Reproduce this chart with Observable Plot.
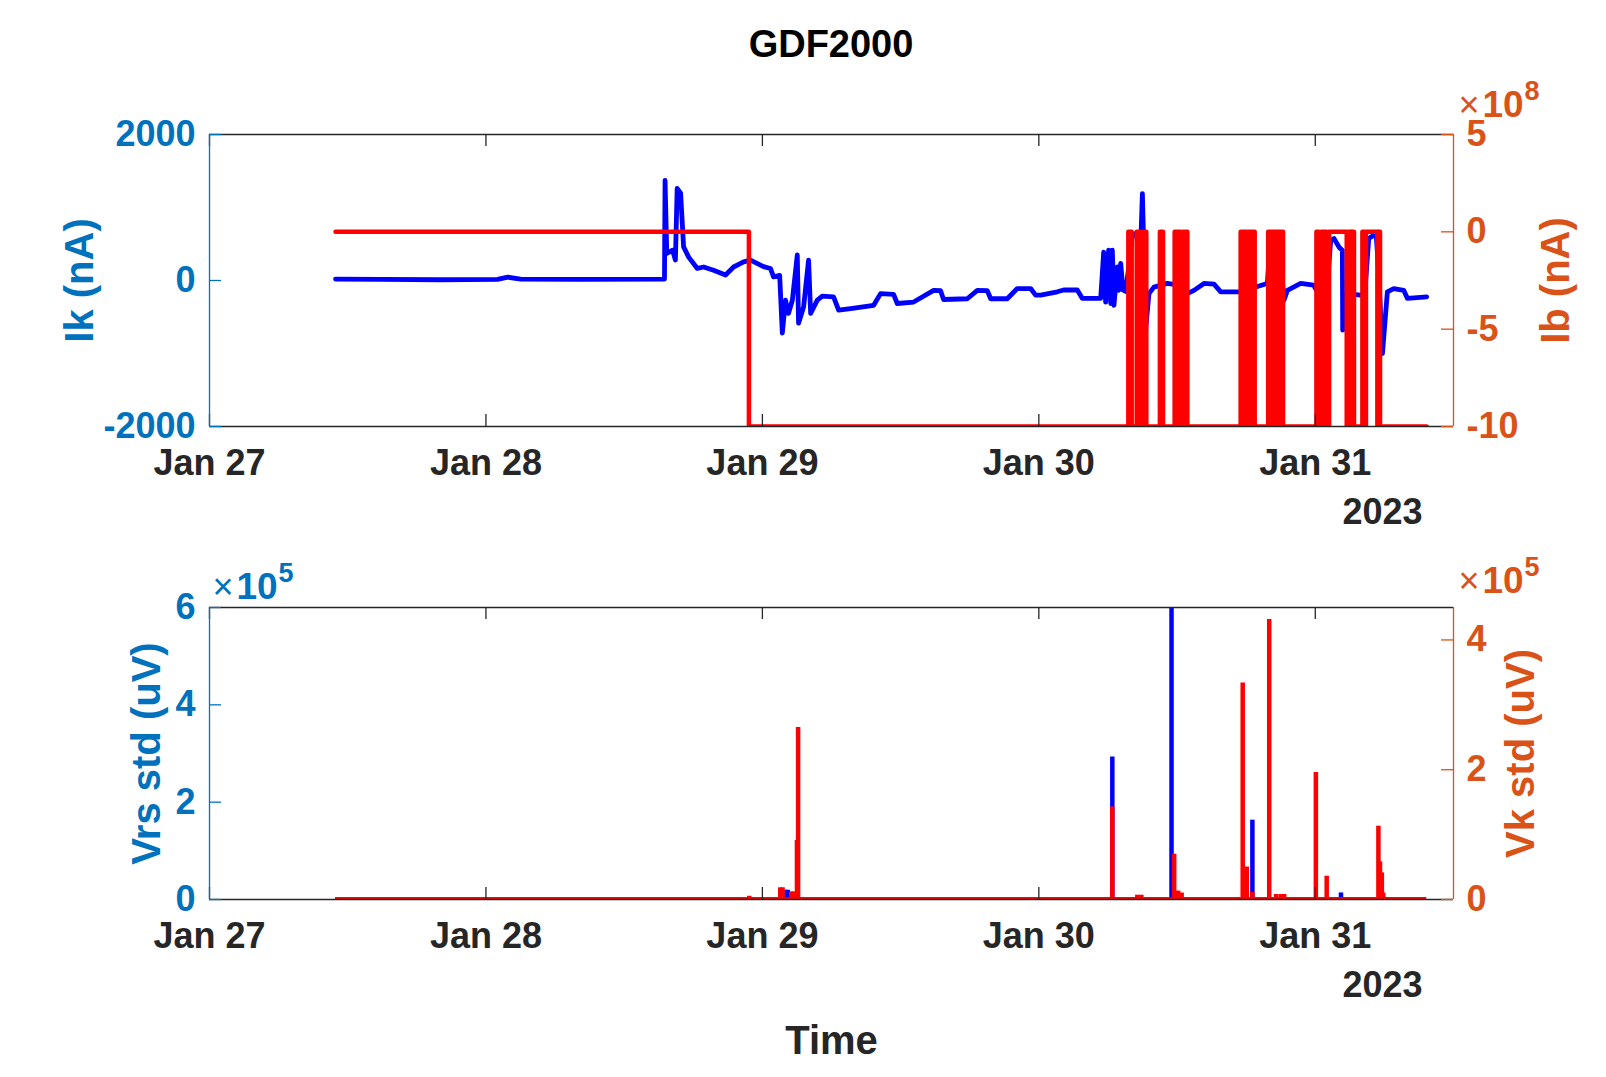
<!DOCTYPE html>
<html>
<head>
<meta charset="utf-8">
<script src="https://cdn.jsdelivr.net/npm/d3@7"></script>
<script src="https://cdn.jsdelivr.net/npm/@observablehq/plot@0.6"></script>
<style>
  body { margin: 0; background: #fff; }
  #fig { position: relative; width: 1606px; height: 1077px; font-family: "Liberation Sans", Arial, sans-serif; }
  #title { position: absolute; left: 209px; width: 1244px; top: 24px; line-height: 40px; text-align: center;
           font-size: 38px; font-weight: bold; color: #000; }
  #chart_top, #chart_bottom { position: absolute; left: 0; }
  #chart_top { top: 90px; }
  #chart_bottom { top: 540px; }
</style>
</head>
<body>
<div id="fig">
  <div id="title">GDF2000</div>
  <div id="chart_top"></div>
  <div id="chart_bottom"></div>
</div>
<script>
// time is in hours since 2023-01-27 00:00 (UTC)
const dayTicks = ["2023-01-27", "2023-01-28", "2023-01-29", "2023-01-30", "2023-01-31"]
const recordStart = 10.94
const recordEnd = 105.67

// top panel, left axis: Ik (nA)
const ikHours = [10.94, 15, 20, 25, 25.9, 27, 32, 39.5, 39.55, 39.7, 40.2, 40.45, 40.6, 40.9, 41.16, 41.6, 42.35, 42.9, 43.76, 44.8,
  45.5, 46.37, 46.97, 48.1, 48.7, 48.97, 49.5, 49.73, 50.01, 50.27, 50.6, 51.03, 51.14, 51.58, 52.01, 52.19, 52.77, 53.2, 54.18, 54.62,
  55.66, 57.66, 58.26, 59.39, 59.71, 61.13, 62.87, 63.47, 63.73, 65.79, 66.66, 67.53, 67.82, 69.26, 70.13, 71.29, 71.72, 72.16, 73.61, 74.15,
  75.34, 75.78, 77.37, 77.63, 77.8, 78.06, 78.24, 78.38, 78.52, 78.82, 78.93, 79.11, 79.3, 79.54, 79.9, 80.12, 80.41, 80.84, 80.99, 81.1,
  81.27, 81.56, 81.99, 83.16, 84.0, 84.31, 84.46, 84.89, 85.47, 86.34, 87.21, 87.79, 89.52, 90.82, 91.84, 92.13, 92.39, 92.56, 92.71, 93.0,
  93.28, 93.58, 94.73, 95.86, 96.18, 97.0, 97.34, 97.62, 98.1, 98.35, 98.38, 98.64, 99.94, 100.3, 100.64, 101.07, 101.3, 101.51, 101.83, 102.26,
  102.81, 103.68, 104.0, 105.67]
const ikValues = [20, 15, 10, 15, 45, 20, 15, 20, 1370, 370, 415, 280, 1260, 1196, 460, 320, 165, 185, 140, 75,
  185, 255, 280, 190, 165, 50, 70, -720, -270, -450, -270, 350, -585, -360, 280, -450, -270, -215, -225, -407,
  -385, -340, -180, -190, -315, -295, -135, -140, -260, -250, -135, -140, -250, -250, -110, -110, -200, -200, -155, -130,
  -130, -245, -245, 390, -295, 415, -315, 415, -340, 185, -135, 235, -130, -150, 300, 620, 645, 460, 1190, 500,
  -680, -180, -90, -40, -60, 185, -405, -180, -135, -40, -50, -155, -155, -90, -40, 640, 640, 280, -635, 255,
  -270, -135, -40, -65, -155, -150, 550, 575, 450, 415, -680, -180, -200, -180, 575, 620, 600, 95, -1000, -155,
  -110, -135, -245, -225]

// top panel, right axis: Ib (nA), switches between 0 and -1e9
const ibHours = [10.94, 46.83, 79.77, 80.06, 80.5, 80.7, 80.8, 81.0, 81.1, 81.33, 82.51, 82.78, 83.79, 83.95, 84.1, 84.31,
  84.51, 84.65, 84.75, 84.89, 89.52, 89.68, 89.84, 90.0, 90.16, 90.32, 90.48, 90.74, 91.91, 92.19, 92.33, 92.71,
  92.85, 93.2, 96.1, 96.32, 96.53, 96.7, 96.85, 97.0, 97.2, 98.73, 98.9, 99.1, 99.2, 99.36, 100.09, 100.25,
  100.4, 101.39, 101.5, 101.62, 105.67]
const ibValues = [0, -1e9, 0, -1e9, 0, -1e9, 0, -1e9, 0, -1e9, 0, -1e9, 0, -1e9, 0, -1e9,
  0, -1e9, 0, -1e9, 0, -1e9, 0, -1e9, 0, -1e9, 0, -1e9, 0, -1e9, 0, -1e9,
  0, -1e9, 0, -1e9, 0, -1e9, 0, -1e9, 0, -1e9, 0, -1e9, 0, -1e9, 0, -1e9,
  0, -1e9, 0, -1e9, -1e9]

// bottom panel: spikes above a zero baseline
const vrsHours = [50.0, 50.2, 78.38, 83.52, 90.54, 98.23]
const vrsValues = [19000, 19000, 293000, 600000, 163000, 13500]
const vkHours = [46.86, 49.55, 49.75, 50.5, 50.7, 51.0, 51.1, 78.38, 80.55, 80.9, 83.75, 84.1, 84.4, 89.7, 90.05, 90.54,
  92.0, 92.6, 93.0, 93.3, 96.05, 96.99, 101.48, 101.62, 101.78, 101.9]
const vkValues = [5000, 18000, 18000, 11700, 11700, 91000, 265000, 142700, 6600, 6600, 69800, 13000, 10000, 333800, 50000, 10800,
  431500, 7700, 7700, 7700, 195700, 35900, 113000, 58000, 41000, 10000]

const ikTicks = [-2000, 0, 2000]
const ibTicks = [-10, -5, 0, 5]      // x 1e8
const vrsTicks = [0, 2, 4, 6]        // x 1e5
const vkTicks = [0, 2, 4]            // x 1e5

const axBlue = "#0072BD", axOrange = "#D95319", ink = "#262626"
const frameW = 1244, frameH = 292

const t0 = Date.UTC(2023, 0, 27)
const toDate = h => new Date(t0 + h * 3600e3)
const xDomain = [new Date("2023-01-27T00:00Z"), new Date("2023-01-31T12:00Z")]
const dayDates = dayTicks.map(d => new Date(d + "T00:00Z"))
const fmtDay = d3.utcFormat("%b %d")

const plotStyle = {fontFamily: "'Liberation Sans', Arial, sans-serif", fontWeight: "bold", fontSize: "36px", background: "white", overflow: "visible"}

// box, inward ticks, tick labels (MATLAB-like yyaxis look)
function boxMarks(yDomain, leftTicks, leftFmt, rightTicks, rightFmt) {
  return [
    Plot.ruleY([yDomain[0], yDomain[1]], {stroke: ink, strokeWidth: 1.3}),
    Plot.tickX(dayDates, {x: d => d, stroke: ink, strokeWidth: 1.3, insetTop: frameH - 12}),
    Plot.tickX(dayDates, {x: d => d, stroke: ink, strokeWidth: 1.3, insetBottom: frameH - 12}),
    Plot.ruleX([xDomain[0]], {stroke: axBlue, strokeWidth: 1.3}),
    Plot.ruleX([xDomain[1]], {stroke: axOrange, strokeWidth: 1.3}),
    Plot.tickY(leftTicks, {y: d => d, stroke: axBlue, strokeWidth: 1.3, insetRight: frameW - 12}),
    Plot.tickY(rightTicks, {y: d => d, stroke: axOrange, strokeWidth: 1.3, insetLeft: frameW - 12}),
    Plot.axisX({ticks: dayDates, tickSize: 0, tickPadding: 23, tickFormat: fmtDay, color: ink, fontSize: 36, label: null}),
    Plot.axisY({ticks: leftTicks, tickSize: 0, tickPadding: 14, tickFormat: leftFmt, color: axBlue, fontSize: 36, label: null}),
    Plot.axisY({anchor: "right", ticks: rightTicks, tickSize: 0, tickPadding: 13, tickFormat: rightFmt, color: axOrange, fontSize: 36, label: null}),
    Plot.text(["2023"], {frameAnchor: "bottom-right", textAnchor: "end", lineAnchor: "middle", dx: -31, dy: 86, fontSize: 36, fill: ink})
  ]
}

// "x10^n" multiplier written above an axis
function expMarks(anchor, dx, dy, power, color) {
  return [
    Plot.text(["×"], {frameAnchor: anchor, textAnchor: "start", lineAnchor: "bottom", dx: dx, dy: dy, fontSize: 36, fontWeight: "normal", fill: color}),
    Plot.text(["10"], {frameAnchor: anchor, textAnchor: "start", lineAnchor: "bottom", dx: dx + 24, dy: dy, fontSize: 37, fill: color}),
    Plot.text([power], {frameAnchor: anchor, textAnchor: "start", lineAnchor: "bottom", dx: dx + 66, dy: dy - 17, fontSize: 27, fill: color})
  ]
}

// ---------- top panel ----------
const ik = ikHours.map((h, i) => ({t: toDate(h), v: ikValues[i]}))
const ib = ibHours.map((h, i) => ({t: toDate(h), v: ibValues[i]}))
const ibToLeft = d3.scaleLinear([-10e8, 5e8], [-2000, 2000])

let chartTop = Plot.plot({
  width: 1606, height: 446,
  marginLeft: 209, marginRight: 153, marginTop: 44, marginBottom: 110,
  style: plotStyle,
  x: {type: "utc", domain: xDomain},
  y: {domain: [-2000, 2000]},
  marks: [
    Plot.line(ik, {x: "t", y: "v", stroke: "#0000FF", strokeWidth: 4.8, clip: true}),
    Plot.line(ib, {x: "t", y: d => ibToLeft(d.v), curve: "step-after", stroke: "#FF0000", strokeWidth: 4.5, clip: true}),
    ...boxMarks([-2000, 2000], ikTicks, d => String(d),
      ibTicks.map(v => ibToLeft(v * 1e8)), d => String(Math.round(ibToLeft.invert(d) / 1e8))),
    ...expMarks("top-right", 5, -18, "8", axOrange),
    Plot.text(["Ik (nA)"], {frameAnchor: "left", textAnchor: "middle", rotate: -90, dx: -129, fontSize: 40, fill: axBlue}),
    Plot.text(["Ib (nA)"], {frameAnchor: "right", textAnchor: "middle", rotate: -90, dx: 103, fontSize: 40, fill: axOrange})
  ]
})

// ---------- bottom panel ----------
const vrs = vrsHours.map((h, i) => ({t: toDate(h), v: vrsValues[i]}))
const vk = vkHours.map((h, i) => ({t: toDate(h), v: vkValues[i]}))
const vkToLeft = d3.scaleLinear([0, 4.5e5], [0, 6e5])

let chartBottom = Plot.plot({
  width: 1606, height: 537,
  marginLeft: 209, marginRight: 153, marginTop: 67, marginBottom: 178,
  style: plotStyle,
  x: {type: "utc", domain: xDomain},
  y: {domain: [0, 6e5]},
  marks: [
    Plot.ruleY([0], {x1: toDate(recordStart), x2: toDate(recordEnd), stroke: "#0000FF", strokeWidth: 4.5, clip: true}),
    Plot.ruleX(vrs, {x: "t", y1: 0, y2: "v", stroke: "#0000FF", strokeWidth: 4.5, clip: true}),
    Plot.ruleY([0], {x1: toDate(recordStart), x2: toDate(recordEnd), stroke: "#FF0000", strokeWidth: 4.5, clip: true}),
    Plot.ruleX(vk, {x: "t", y1: 0, y2: d => vkToLeft(d.v), stroke: "#FF0000", strokeWidth: 4.5, clip: true}),
    ...boxMarks([0, 6e5], vrsTicks.map(v => v * 1e5), d => String(d / 1e5),
      vkTicks.map(v => vkToLeft(v * 1e5)), d => String(Math.round(vkToLeft.invert(d) / 1e5))),
    ...expMarks("top-left", 3, -9, "5", axBlue),
    ...expMarks("top-right", 5, -15, "5", axOrange),
    Plot.text(["Vrs std (uV)"], {frameAnchor: "left", textAnchor: "middle", rotate: -90, dx: -62, fontSize: 40, fill: axBlue}),
    Plot.text(["Vk std (uV)"], {frameAnchor: "right", textAnchor: "middle", rotate: -90, dx: 68, fontSize: 40, fill: axOrange}),
    Plot.text(["Time"], {frameAnchor: "bottom", lineAnchor: "middle", dy: 142, fontSize: 40, fill: ink})
  ]
})

d3.select('#chart_top').append(() => chartTop)
d3.select('#chart_bottom').append(() => chartBottom)
</script>
</body>
</html>
